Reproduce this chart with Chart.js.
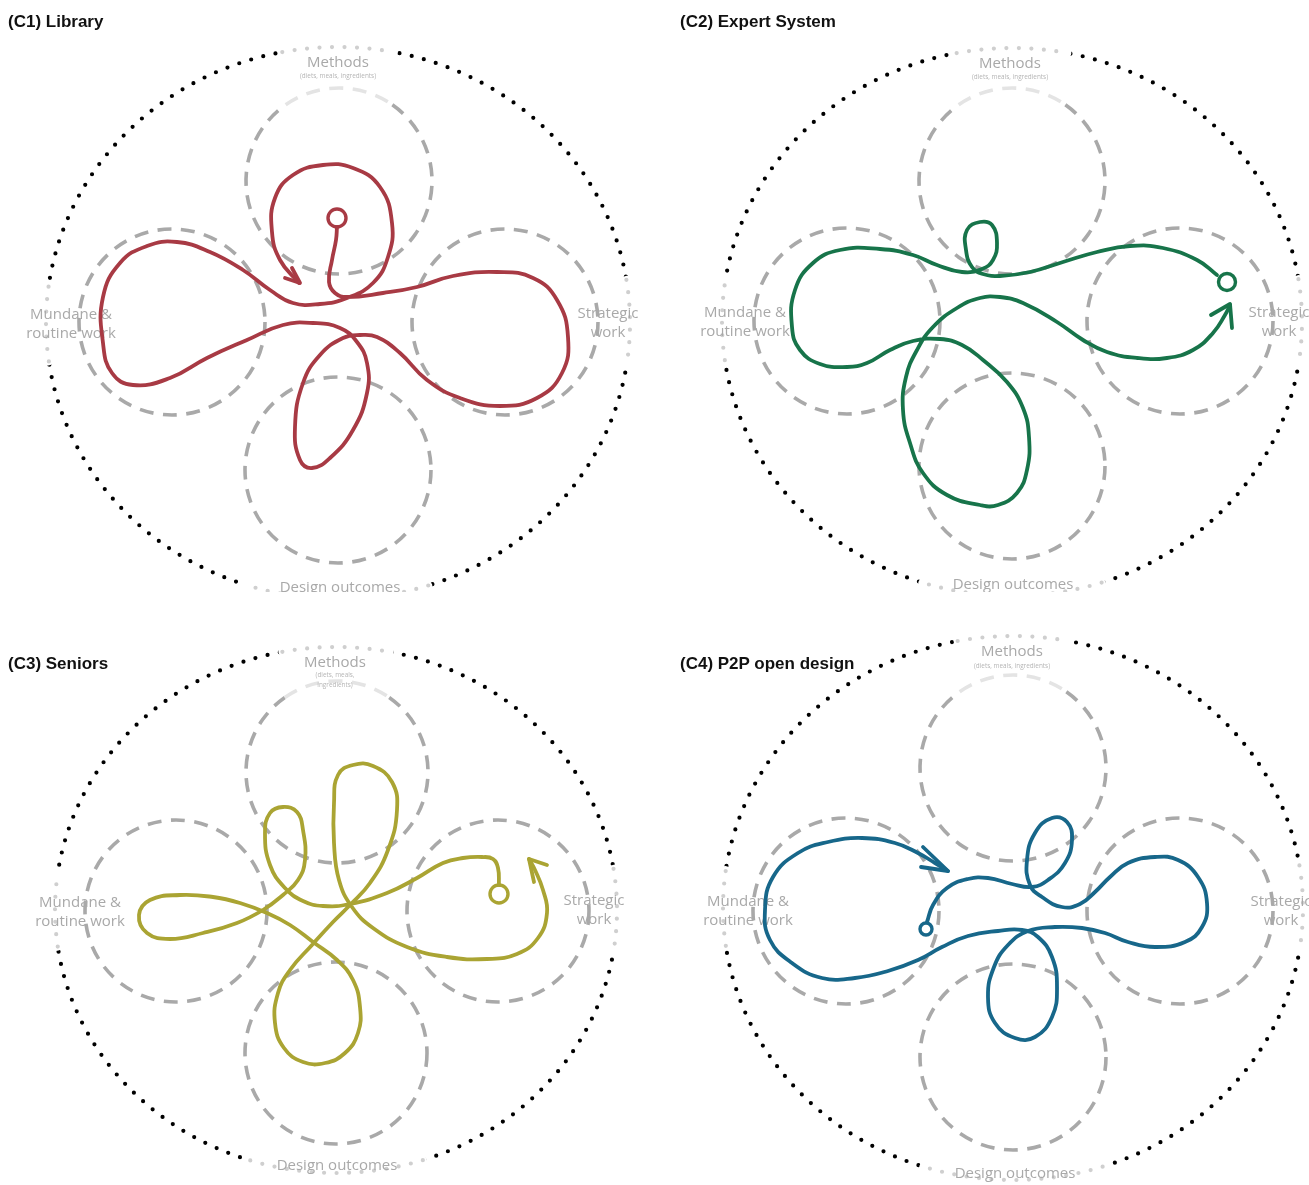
<!DOCTYPE html>
<html>
<head>
<meta charset="utf-8">
<script src="https://cdn.jsdelivr.net/npm/chart.js@4/dist/chart.umd.min.js"></script>
<style>
  body { margin: 0; background: #fff; }
  #page { position: relative; width: 1309px; height: 1185px; overflow: hidden; }
  .panel { position: absolute; }
  .title {
    position: absolute; font: bold 17px "Liberation Sans", Arial, sans-serif;
    color: #111; line-height: 18px; white-space: nowrap; z-index: 2;
  }
</style>
</head>
<body>
<div id="page">
  <div class="panel" style="left:0;top:0"><canvas id="c1"></canvas></div>
  <div class="panel" style="left:655px;top:0"><canvas id="c2"></canvas></div>
  <div class="panel" style="left:0;top:592px"><canvas id="c3"></canvas></div>
  <div class="panel" style="left:655px;top:592px"><canvas id="c4"></canvas></div>
  <div class="title" id="t1" style="left:8px;top:13px"></div>
  <div class="title" id="t2" style="left:680px;top:13px"></div>
  <div class="title" id="t3" style="left:8px;top:655px"></div>
  <div class="title" id="t4" style="left:680px;top:655px"></div>
</div>
<script>
/* ================= DATA ================= */
const panelTitles = ["(C1) Library", "(C2) Expert System", "(C3) Seniors", "(C4) P2P open design"];
const workAreas = ["Methods", "Mundane &|routine work", "Strategic|work", "Design outcomes"];
const methodsNote = "(diets, meals, ingredients)";

// C1 Library - path (start loop -> arrow)
const libraryStart = [337, 218];
const libraryX = [337,336,332,329,335,347,383,417,453,497,533,557,568,562,537,500,460,427,400,377,360,
  343,320,303,295,300,312,330,353,367,367,357,340,313,283,247,207,170,133,112,103,103,120,147,177,210,243,270,293,320,347,
  373,388,392,380,353,323,293,275,272,280,299];
const libraryY = [227,240,260,282,293,297,293,287,276,272,278,300,337,373,398,406,398,380,353,337,335,
  338,355,383,427,460,468,458,430,393,363,342,328,323,325,340,358,378,385,373,343,297,263,246,242,252,270,290,303,304,298,
  283,257,223,187,168,165,175,198,232,260,283];
const libraryArrowX = [285, 300, 292];
const libraryArrowY = [278, 283, 268];

// C2 Expert System
const expertStart = [1227, 282];
const expertX = [1217,1197,1163,1130,1097,1063,1030,1000,983,972,966,967,980,992,997,993,982,962,937,913,
  880,840,813,795,792,800,820,847,867,890,913,940,962,983,1007,1023,1029,1027,1017,998,
  980,947,923,910,903,906,917,933,957,980,1000,1023,1057,1083,1107,1137,1167,1193,1213,1225,1230];
const expertY = [275,260,248,246,252,262,272,276,274,267,250,230,222,225,243,260,269,272,265,255,
  249,250,263,290,327,350,364,367,363,350,341,339,345,360,382,408,437,470,493,505,
  505,495,473,443,410,377,350,327,308,298,297,303,322,340,352,358,358,350,333,315,305];
const expertArrowX = [1211, 1230, 1232];
const expertArrowY = [315, 304, 328];

// C3 Seniors
const seniorsStart = [499, 894];
const seniorsX = [499,498,493,482,463,443,417,387,350,323,303,285,270,265,270,283,297,303,305,298,
  283,263,237,203,170,147,139,150,180,213,240,267,290,313,337,353,360,358,345,325,
  303,284,275,278,290,312,333,350,370,388,397,392,373,353,338,334,334,339,352,373,
  407,447,487,517,538,547,543,535,529];
const seniorsY = [885,868,859,857,858,863,878,893,904,906,901,888,865,833,813,807,812,830,860,880,
  895,910,923,933,939,933,915,900,895,897,903,913,925,942,960,980,1007,1033,1053,1063,
  1062,1048,1023,993,970,945,922,905,883,850,810,782,766,765,775,803,843,880,907,928,
  947,957,959,954,938,913,890,870,859];
const seniorsArrowX = [547, 529, 534];
const seniorsArrowY = [865, 859, 882];

// C4 P2P open design
const p2pStart = [926, 929];
const p2pX = [927,933,947,968,988,1012,1032,1048,1065,1072,1067,1052,1035,1027,1030,1042,1062,1080,1095,1110,
  1128,1155,1178,1198,1207,1202,1185,1155,1128,1105,1082,1055,1028,1008,994,988,995,1015,1035,1052,
  1057,1052,1038,1022,998,968,942,918,888,855,822,792,770,765,773,798,828,862,895,918,935,948];
const p2pY = [922,905,888,879,878,884,887,880,863,840,822,818,833,860,885,897,907,904,892,877,
  863,857,860,877,903,927,942,947,942,933,928,927,931,945,967,997,1023,1038,1037,1017,
  987,957,937,930,931,936,947,960,971,978,978,963,940,910,877,853,842,838,843,853,863,871];
const p2pArrowX = [921, 948, 923];
const p2pArrowY = [867, 871, 847];

/* ================= LAYOUT (diagram geometry, not data) ================= */
const panels = [
  { id: "c1", box: [0, 0, 655, 592], color: "#a83a44", markR: 9,
    outer: [338, 323, 292, 276], circles: [[339, 181], [172, 322], [505, 322], [338, 470]], r: 93,
    labels: { methods: [338, 63], note: [[338, 76]], mundane: [71, 315], strategic: [608, 314], design: [340, 588] } },
  { id: "c2", box: [655, 0, 654, 592], color: "#17744a", markR: 8.5,
    outer: [1012, 322, 290, 274], circles: [[1012, 181], [847, 321], [1180, 321], [1012, 466]], r: 93,
    labels: { methods: [1010, 64], note: [[1010, 77]], mundane: [745, 313], strategic: [1279, 313], design: [1013, 585] } },
  { id: "c3", box: [0, 592, 655, 593], color: "#aaa433", markR: 9,
    outer: [336, 910, 281, 263], circles: [[337, 772], [176, 911], [498, 911], [336, 1053]], r: 91,
    labels: { methods: [335, 663], note: [[335, 675], [335, 685]], mundane: [80, 903], strategic: [594, 901], design: [337, 1166] } },
  { id: "c4", box: [655, 592, 654, 593], color: "#17678a", markR: 6,
    outer: [1013, 908, 290, 272], circles: [[1013, 768], [846, 911], [1180, 911], [1013, 1057]], r: 93,
    labels: { methods: [1012, 652], note: [[1012, 666]], mundane: [748, 902], strategic: [1281, 902], design: [1015, 1174] } }
];
const series = [
  [libraryX, libraryY, libraryArrowX, libraryArrowY, libraryStart],
  [expertX, expertY, expertArrowX, expertArrowY, expertStart],
  [seniorsX, seniorsY, seniorsArrowX, seniorsArrowY, seniorsStart],
  [p2pX, p2pY, p2pArrowX, p2pArrowY, p2pStart]
];
// parts of the outer ring that fade to grey behind the labels (degrees, canvas orientation)
const greyArcs = [[-101, -79], [72, 108], [-9, 9], [172, 188]];

/* ================= BACKGROUND PLUGIN ================= */
const deg = d => d * Math.PI / 180;
const diagramPlugin = {
  id: "diagram",
  beforeDatasetsDraw(chart, args, opts) {
    const p = opts.panel;
    const { ctx } = chart;
    const sx = chart.scales.x, sy = chart.scales.y;
    const X = v => sx.getPixelForValue(v), Y = v => sy.getPixelForValue(v);
    ctx.save();

    // outer dotted ring
    const [ocx, ocy, orx, ory] = p.outer;
    const cx = X(ocx), cy = Y(ocy);
    const rx = Math.abs(X(ocx + orx) - cx), ry = Math.abs(Y(ocy + ory) - cy);
    ctx.lineCap = "round";
    ctx.lineWidth = 4.2;
    ctx.setLineDash([0, 12.5]);
    ctx.strokeStyle = "#000";
    ctx.beginPath();
    ctx.ellipse(cx, cy, rx, ry, 0, 0, Math.PI * 2);
    ctx.stroke();
    greyArcs.forEach(([a0, a1]) => {
      ctx.setLineDash([]);
      ctx.lineWidth = 8;
      ctx.strokeStyle = "#fff";
      ctx.beginPath();
      ctx.ellipse(cx, cy, rx, ry, 0, deg(a0), deg(a1));
      ctx.stroke();
      ctx.lineWidth = 4.2;
      ctx.setLineDash([0, 12.5]);
      ctx.strokeStyle = "#cfcfcf";
      ctx.beginPath();
      ctx.ellipse(cx, cy, rx, ry, 0, deg(a0), deg(a1));
      ctx.stroke();
    });

    // four dashed work-area circles
    ctx.lineCap = "butt";
    ctx.lineWidth = 3.6;
    ctx.setLineDash([14, 9.5]);
    p.circles.forEach(([ccx, ccy], i) => {
      const px = X(ccx), py = Y(ccy);
      const r = Math.abs(X(ccx + p.r) - px);
      if (i === 0) {
        ctx.strokeStyle = "#a9a9a9";
        ctx.beginPath();
        ctx.arc(px, py, r, deg(-55), deg(235));
        ctx.stroke();
        ctx.strokeStyle = "#e4e4e4";
        ctx.beginPath();
        ctx.arc(px, py, r, deg(-125), deg(-55));
        ctx.stroke();
      } else {
        ctx.strokeStyle = "#a9a9a9";
        ctx.beginPath();
        ctx.arc(px, py, r, 0, Math.PI * 2);
        ctx.stroke();
      }
    });

    // area labels
    ctx.setLineDash([]);
    ctx.fillStyle = "#a9a9a9";
    ctx.textAlign = "center";
    ctx.textBaseline = "middle";
    const big = "15px 'Open Sans', sans-serif";
    const put = (txt, [lx, ly], font, lh) => {
      ctx.font = font;
      txt.split("|").forEach((line, k) => ctx.fillText(line, X(lx), Y(ly) + k * lh));
    };
    const L = p.labels;
    put(workAreas[0], L.methods, big, 19);
    ctx.fillStyle = "#b5b5b5";
    const noteLines = L.note.length > 1 ? ["(diets, meals,", "ingredients)"] : [methodsNote];
    L.note.forEach((pos, k) => put(noteLines[k], pos, "6.4px 'Open Sans', sans-serif", 0));
    ctx.fillStyle = "#a9a9a9";
    put(workAreas[1], L.mundane, big, 19);
    put(workAreas[2], L.strategic, big, 19);
    put(workAreas[3], L.design, big, 19);
    ctx.restore();
  }
};

/* ================= CHARTS ================= */
const pts = (xs, ys) => xs.map((x, i) => ({ x, y: ys[i] }));

panels.forEach((p, i) => {
  const [xs, ys, axs, ays, start] = series[i];
  const [left, top, w, h] = p.box;
  const canvas = document.getElementById(p.id);
  canvas.width = w; canvas.height = h;
  canvas.style.width = w + "px"; canvas.style.height = h + "px";
  document.getElementById("t" + (i + 1)).textContent = panelTitles[i];

  new Chart(canvas, {
    type: "scatter",
    data: {
      datasets: [
        { data: pts(xs, ys), showLine: true, borderColor: p.color, borderWidth: 3.8,
          pointRadius: 0, tension: 0.45, borderCapStyle: "round", borderJoinStyle: "round" },
        { data: pts(axs, ays), showLine: true, borderColor: p.color, borderWidth: 3.8,
          pointRadius: 0, tension: 0, borderCapStyle: "round", borderJoinStyle: "round" },
        { data: [{ x: start[0], y: start[1] }], showLine: false, pointRadius: p.markR,
          pointBorderWidth: 3.4, pointBorderColor: p.color, pointBackgroundColor: "rgba(0,0,0,0)" }
      ]
    },
    options: {
      responsive: false,
      animation: false,
      events: [],
      layout: { padding: 0, autoPadding: false },
      plugins: { legend: { display: false }, tooltip: { enabled: false }, diagram: { panel: p } },
      scales: {
        x: { type: "linear", min: left, max: left + w, display: false },
        y: { type: "linear", min: top, max: top + h, reverse: true, display: false }
      }
    },
    plugins: [diagramPlugin]
  });
});
</script>
</body>
</html>
